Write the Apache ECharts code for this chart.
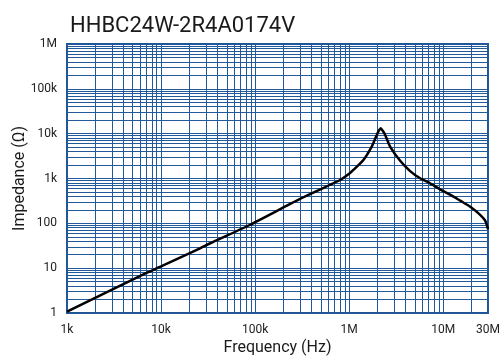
<!DOCTYPE html>
<html>
<head>
<meta charset="utf-8">
<script src="https://cdn.jsdelivr.net/npm/echarts@6/dist/echarts.min.js"></script>
<style>
  html, body { margin: 0; padding: 0; background: #fff; }
  #chart { width: 503px; height: 358px; }
</style>
</head>
<body>
<div id="chart"></div>
<script>
  var freqHz = [1000, 6500, 10000, 26000, 33000, 88500, 301000, 802000, 1025000, 1110000,
    1420000, 1740000, 1970000, 2080000, 2170000, 2280000, 2420000, 2730000, 3490000,
    4460000, 5690000, 7270000, 9290000, 11900000, 15200000, 19400000, 23800000, 28000000, 30000000];
  var impedanceOhm = [1.07, 7.3, 10.9, 27.7, 35.5, 93, 350, 926, 1330, 1549,
    2588, 5130, 9350, 11800, 13200, 11600, 9350, 5130, 2480,
    1460, 1010, 782, 574, 435, 320, 235, 167, 115, 74];

  var xMin = 1000, xMax = 30000000;
  var yMin = 1, yMax = 1000000;
  var minorSteps = [2, 3, 4, 5, 6, 7, 8, 9];

  var gridColor = '#22599a';

  // minor grid lines 2..9 per decade
  var minorLines = [];
  for (var d = xMin; d < xMax; d *= 10) {
    minorSteps.forEach(function (k) {
      if (k * d < xMax) minorLines.push({ xAxis: k * d });
    });
  }
  for (var e = yMin; e < yMax; e *= 10) {
    minorSteps.forEach(function (k) {
      minorLines.push({ yAxis: k * e });
    });
  }

  function fmt(v) {
    if (v >= 1e6) return Math.round(v / 1e6) + 'M';
    if (v >= 1e3) return Math.round(v / 1e3) + 'k';
    return Math.round(v) + '';
  }

  var pts = freqHz.map(function (f, i) { return [f, impedanceOhm[i]]; });

  var chart = echarts.init(document.getElementById('chart'));
  var option = {
    animation: false,
    textStyle: { fontFamily: 'Roboto' },
    title: {
      text: 'HHBC24W-2R4A0174V',
      left: 65,
      top: 10,
      textStyle: { fontFamily: 'Roboto', fontSize: 22, fontWeight: 'normal', color: '#1a1a1a' }
    },
    grid: {
      left: 67, right: 15, top: 44, bottom: 45,
      outerBoundsMode: 'none',
      containLabel: false,
      show: true,
      borderColor: '#1f5597',
      borderWidth: 2,
      backgroundColor: '#fff'
    },
    xAxis: {
      type: 'log',
      logBase: 10,
      min: xMin,
      max: xMax,
      name: 'Frequency (Hz)',
      nameLocation: 'middle',
      nameGap: 27,
      nameMoveOverlap: false,
      nameTextStyle: { fontFamily: 'Roboto', fontSize: 16, color: '#1a1a1a' },
      axisLine: { show: false },
      axisTick: { show: false },
      axisLabel: { formatter: fmt, fontSize: 12, color: '#222', margin: 11, showMaxLabel: true },
      splitLine: { show: true, lineStyle: { color: gridColor, width: 1 } }
    },
    yAxis: {
      type: 'log',
      logBase: 10,
      min: yMin,
      max: yMax,
      name: 'Impedance (Ω)',
      nameLocation: 'middle',
      nameGap: 39,
      nameMoveOverlap: false,
      nameTextStyle: { fontFamily: 'Roboto', fontSize: 16, color: '#1a1a1a' },
      axisLine: { show: false },
      axisTick: { show: false },
      axisLabel: { formatter: fmt, fontSize: 12, color: '#222', margin: 10 },
      splitLine: { show: true, lineStyle: { color: gridColor, width: 1 } }
    },
    series: [{
      type: 'line',
      data: pts,
      z: 1,
      silent: true,
      showSymbol: false,
      lineStyle: { opacity: 0 },
      markLine: {
        silent: true,
        symbol: ['none', 'none'],
        label: { show: false },
        lineStyle: { color: gridColor, width: 1, type: 'solid', opacity: 1 },
        data: minorLines
      }
    }, {
      type: 'line',
      data: pts,
      z: 5,
      smooth: 0.2,
      showSymbol: false,
      lineStyle: { color: '#000', width: 2.5 }
    }]
  };
  chart.setOption(option);
</script>
</body>
</html>
